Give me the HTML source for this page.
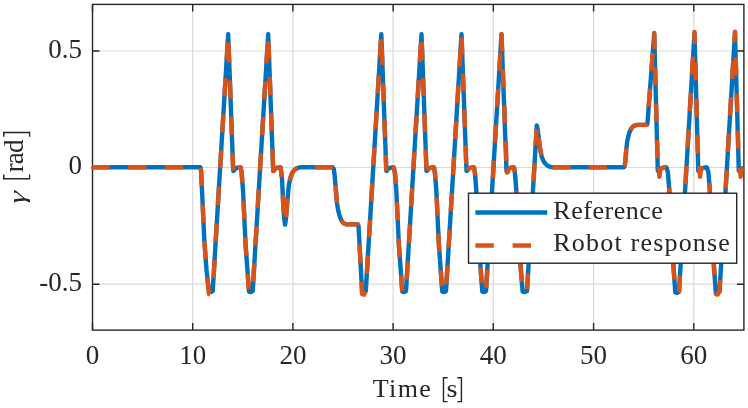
<!DOCTYPE html>
<html><head><meta charset="utf-8"><title>plot</title>
<style>
html,body{margin:0;padding:0;background:#fff}
svg{display:block}
text{font-family:"Liberation Serif",serif;fill:#262626}
</style></head><body>
<svg width="748" height="408" viewBox="0 0 748 408">
<rect width="748" height="408" fill="#fff"/>
<g stroke="#d9d9d9" stroke-width="1.2"><line x1="192.7" y1="4.4" x2="192.7" y2="330.1"/><line x1="292.9" y1="4.4" x2="292.9" y2="330.1"/><line x1="393.1" y1="4.4" x2="393.1" y2="330.1"/><line x1="493.3" y1="4.4" x2="493.3" y2="330.1"/><line x1="593.6" y1="4.4" x2="593.6" y2="330.1"/><line x1="693.8" y1="4.4" x2="693.8" y2="330.1"/><line x1="92.5" y1="51.0" x2="743.9" y2="51.0"/><line x1="92.5" y1="167.5" x2="743.9" y2="167.5"/><line x1="92.5" y1="284.2" x2="743.9" y2="284.2"/></g>
<path d="M92.5 330.1v-7M92.5 4.4v7M192.7 330.1v-7M192.7 4.4v7M292.9 330.1v-7M292.9 4.4v7M393.1 330.1v-7M393.1 4.4v7M493.3 330.1v-7M493.3 4.4v7M593.6 330.1v-7M593.6 4.4v7M693.8 330.1v-7M693.8 4.4v7M92.5 51.0h7M743.9 51.0h-7M92.5 167.5h7M743.9 167.5h-7M92.5 284.2h7M743.9 284.2h-7" stroke="#262626" stroke-width="1.4" fill="none"/>
<rect x="92.5" y="4.4" width="651.4" height="325.7" fill="none" stroke="#262626" stroke-width="1.4"/>
<clipPath id="c"><rect x="90.0" y="4.4" width="654.8" height="325.7"/></clipPath>
<g clip-path="url(#c)" fill="none" stroke-linejoin="round">
<path d="M92.5 167.3 L200.4 167.3 L201.0 169.5 L202.0 190.0 L204.3 240.0 L206.5 270.0 L209.0 291.5 L210.9 292.0 L212.7 291.0 L228.2 34.3 L233.2 171.0 L234.0 170.7 L235.2 168.7 L237.2 167.8 L239.2 167.3 L240.6 167.5 L241.6 172.5 L243.0 190.0 L245.6 245.0 L249.0 291.5 L250.9 292.0 L252.7 291.0 L268.2 34.3 L273.2 171.0 L274.0 170.7 L275.2 168.7 L277.2 167.8 L279.2 167.3 L280.6 167.5 L282.0 178.5 L283.2 204.0 L284.4 220.0 L285.1 224.6 L285.8 220.0 L286.4 213.0 L287.1 204.0 L288.0 194.0 L288.9 185.0 L290.0 179.5 L291.4 175.0 L292.8 172.0 L294.4 170.0 L296.5 168.4 L299.5 167.4 L302.0 167.3 L332.8 167.3 L333.8 169.0 L334.6 175.0 L335.5 185.0 L336.3 195.0 L337.1 204.0 L338.2 210.5 L339.5 215.5 L341.0 219.5 L342.4 222.0 L344.0 223.5 L346.5 224.3 L357.8 224.4 L358.5 226.0 L362.1 291.5 L364.0 292.0 L365.8 291.0 L381.3 34.3 L386.3 171.0 L387.1 170.7 L388.3 168.7 L390.3 167.8 L392.3 167.3 L393.7 167.5 L394.9 172.5 L396.3 190.0 L398.9 245.0 L402.3 291.5 L404.2 292.0 L406.0 291.0 L421.5 34.3 L426.5 171.0 L427.3 170.7 L428.5 168.7 L430.5 167.8 L432.5 167.3 L433.9 167.5 L434.9 172.5 L436.3 190.0 L438.9 245.0 L442.3 291.5 L444.2 292.0 L446.0 291.0 L461.5 34.3 L466.5 171.0 L467.3 170.7 L468.5 168.7 L470.5 167.8 L472.5 167.3 L473.9 167.5 L474.9 172.5 L476.3 190.0 L478.9 245.0 L482.3 291.5 L484.2 292.0 L486.0 291.0 L501.5 34.3 L506.5 171.0 L507.3 170.7 L508.5 168.7 L510.5 167.8 L512.5 167.3 L513.9 167.5 L514.9 172.5 L516.3 190.0 L518.9 245.0 L522.6 291.5 L524.8 292.0 L527.0 291.0 L536.8 125.5 L537.6 129.0 L538.5 136.0 L539.5 144.3 L540.5 151.0 L541.6 156.3 L543.2 160.5 L545.0 163.3 L547.5 165.8 L551.0 167.1 L553.0 167.3 L624.0 167.3 L624.9 165.0 L625.6 158.0 L626.3 149.0 L627.3 141.0 L628.4 136.0 L629.5 132.2 L631.0 129.0 L633.0 126.5 L635.9 125.1 L638.0 124.9 L646.9 124.9 L647.5 123.0 L654.2 33.8 L657.8 171.0 L658.7 170.8 L660.0 168.8 L663.0 167.8 L665.0 167.3 L666.5 167.5 L667.9 172.5 L669.3 190.0 L671.9 245.0 L675.3 292.3 L677.2 292.8 L679.0 291.8 L694.5 33.2 L698.3 171.0 L699.1 170.7 L700.3 168.7 L703.5 167.8 L705.5 167.3 L706.9 167.5 L708.4 172.5 L709.8 190.0 L712.4 245.0 L715.8 292.0 L717.7 292.5 L719.5 291.8 L735.0 32.8 L738.8 171.0 L739.6 170.7 L740.8 168.7 L744.0 168.2" stroke="#0072BD" stroke-width="4.4"/>
<g stroke="#D95319" stroke-width="4.4">
<path d="M92.5 167.3 L200.4 167.3 L200.6 168.0" stroke-dasharray="18.26 18.26" stroke-dashoffset="0.91"/>
<path d="M200.6 168.0 L201.0 169.5 L202.0 190.0 L204.3 240.0 L206.5 270.0 L207.3 277.5" stroke-dasharray="18.29 18.29" stroke-dashoffset="0.00"/>
<path d="M207.3 277.5 L209.0 294.0 L210.9 294.5 L212.7 291.0 L213.5 278.2" stroke-dasharray="17.66 17.66" stroke-dashoffset="0.00"/>
<path d="M213.5 278.2 L220.1 168.4" stroke-dasharray="18.33 18.33" stroke-dashoffset="0.00"/>
<path d="M220.1 168.4 L228.2 34.3 L232.5 152.8" stroke-dasharray="18.07 18.07" stroke-dashoffset="0.00"/>
<path d="M232.5 152.8 L233.2 170.4" stroke-dasharray="17.61 17.61" stroke-dashoffset="0.00"/>
<path d="M233.2 170.4 L233.2 171.0 L234.0 170.7 L235.2 168.7 L237.2 167.8 L237.5 167.7" stroke-dasharray="6.29 6.29" stroke-dashoffset="6.29"/>
<path d="M237.5 167.7 L239.2 167.3 L240.6 167.5 L241.6 172.5 L242.4 182.6" stroke-dasharray="18.40 18.40" stroke-dashoffset="0.00"/>
<path d="M242.4 182.6 L243.0 190.0 L245.6 245.0 L247.7 273.8" stroke-dasharray="18.27 18.27" stroke-dashoffset="18.27"/>
<path d="M247.7 273.8 L249.0 291.5 L250.9 292.0 L252.7 291.0 L253.2 281.9" stroke-dasharray="15.44 15.44" stroke-dashoffset="0.00"/>
<path d="M253.2 281.9 L259.9 171.0" stroke-dasharray="18.52 18.52" stroke-dashoffset="0.00"/>
<path d="M259.9 171.0 L268.2 34.3 L272.4 148.8" stroke-dasharray="17.97 17.97" stroke-dashoffset="0.00"/>
<path d="M272.4 148.8 L273.2 171.0 L274.0 170.7 L275.2 168.7 L277.2 167.8 L279.2 167.3 L280.6 167.5 L281.8 177.0" stroke-dasharray="40.65 40.65" stroke-dashoffset="0.00"/>
<path d="M281.8 177.0 L282.0 178.5 L283.2 204.0 L284.4 220.0 L285.1 224.6 L285.8 220.0 L286.4 213.0 L287.1 204.0 L288.0 194.0 L288.9 185.0 L289.8 180.5" stroke-dasharray="18.42 18.42" stroke-dashoffset="18.42"/>
<path d="M289.8 180.5 L290.0 179.5 L291.4 175.0 L292.8 172.0 L294.4 170.0 L296.5 168.4 L297.3 168.1" stroke-dasharray="15.09 15.09" stroke-dashoffset="0.00"/>
<path d="M297.3 168.1 L299.5 167.4 L302.0 167.3 L314.9 167.3" stroke-dasharray="17.72 17.72" stroke-dashoffset="17.72"/>
<path d="M314.9 167.3 L332.8 167.3 L333.8 169.0 L334.6 175.0 L335.5 185.0" stroke-dasharray="17.98 17.98" stroke-dashoffset="0.00"/>
<path d="M335.5 185.0 L335.5 185.0 L336.3 195.0 L337.1 204.0 L338.2 210.5 L339.5 215.5 L341.0 219.5 L341.3 220.0" stroke-dasharray="17.86 17.86" stroke-dashoffset="0.00"/>
<path d="M341.3 220.0 L342.4 222.0 L344.0 223.5 L346.5 224.3 L357.8 224.4 L358.3 225.5" stroke-dasharray="19.57 19.57" stroke-dashoffset="0.00"/>
<path d="M358.3 225.5 L358.5 226.0 L361.5 281.9" stroke-dasharray="18.84 18.84" stroke-dashoffset="18.84"/>
<path d="M361.5 281.9 L362.1 294.2 L364.0 294.7 L365.8 291.0 L366.8 273.8" stroke-dasharray="17.81 17.81" stroke-dashoffset="0.00"/>
<path d="M366.8 273.8 L373.4 165.3" stroke-dasharray="18.12 18.12" stroke-dashoffset="0.00"/>
<path d="M373.4 165.3 L381.3 34.3 L385.7 155.1" stroke-dasharray="18.01 18.01" stroke-dashoffset="0.00"/>
<path d="M385.7 155.1 L386.3 170.8" stroke-dasharray="15.71 15.71" stroke-dashoffset="0.00"/>
<path d="M386.3 170.8 L386.3 171.0 L387.1 170.7 L388.3 168.7 L390.3 167.8 L392.2 167.3" stroke-dasharray="7.54 7.54" stroke-dashoffset="7.54"/>
<path d="M392.2 167.3 L392.3 167.3 L393.7 167.5 L394.9 172.5 L395.8 183.8" stroke-dasharray="18.00 18.00" stroke-dashoffset="0.00"/>
<path d="M395.8 183.8 L396.3 190.0 L398.9 245.0 L401.1 275.3" stroke-dasharray="18.33 18.33" stroke-dashoffset="18.33"/>
<path d="M401.1 275.3 L402.3 291.5 L404.2 292.0 L406.0 291.0 L406.7 279.7" stroke-dasharray="15.79 15.79" stroke-dashoffset="0.00"/>
<path d="M406.7 279.7 L413.3 169.7" stroke-dasharray="18.37 18.37" stroke-dashoffset="0.00"/>
<path d="M413.3 169.7 L421.5 34.3 L425.7 149.7" stroke-dasharray="17.94 17.94" stroke-dashoffset="0.00"/>
<path d="M425.7 149.7 L426.4 168.3" stroke-dasharray="18.61 18.61" stroke-dashoffset="0.00"/>
<path d="M426.4 168.3 L426.5 171.0 L427.3 170.7" stroke-dasharray="3.56 3.56" stroke-dashoffset="3.56"/>
<path d="M427.3 170.7 L427.3 170.7 L428.5 168.7 L430.5 167.8 L432.5 167.3 L433.9 167.5 L434.9 172.5 L435.4 179.1" stroke-dasharray="19.72 19.72" stroke-dashoffset="0.00"/>
<path d="M435.4 179.1 L436.3 190.0 L438.9 245.0 L440.7 270.1" stroke-dasharray="18.23 18.23" stroke-dashoffset="18.23"/>
<path d="M440.7 270.1 L442.3 291.5 L444.2 292.0 L446.0 291.0 L446.4 284.1" stroke-dasharray="16.20 16.20" stroke-dashoffset="0.00"/>
<path d="M446.4 284.1 L453.0 174.9" stroke-dasharray="18.23 18.23" stroke-dashoffset="0.00"/>
<path d="M453.0 174.9 L461.5 34.3 L465.6 145.4" stroke-dasharray="18.00 18.00" stroke-dashoffset="0.00"/>
<path d="M465.6 145.4 L466.2 163.6" stroke-dasharray="18.21 18.21" stroke-dashoffset="0.00"/>
<path d="M466.2 163.6 L466.5 171.0 L467.3 170.7 L467.4 170.5" stroke-dasharray="8.45 8.45" stroke-dashoffset="8.45"/>
<path d="M467.4 170.5 L468.5 168.7 L470.5 167.8 L472.5 167.3 L473.9 167.5 L474.9 172.5 L475.1 175.3" stroke-dasharray="15.71 15.71" stroke-dashoffset="0.00"/>
<path d="M475.1 175.3 L476.3 190.0 L478.9 245.0 L480.5 267.2" stroke-dasharray="18.41 18.41" stroke-dashoffset="18.41"/>
<path d="M480.5 267.2 L482.3 291.5 L484.2 292.0 L486.0 291.0 L486.2 287.8" stroke-dasharray="15.80 15.80" stroke-dashoffset="0.00"/>
<path d="M486.2 287.8 L492.8 178.5" stroke-dasharray="18.25 18.25" stroke-dashoffset="0.00"/>
<path d="M492.8 178.5 L501.5 34.3 L505.7 141.3" stroke-dasharray="17.97 17.97" stroke-dashoffset="0.00"/>
<path d="M505.7 141.3 L506.4 160.9" stroke-dasharray="19.61 19.61" stroke-dashoffset="0.00"/>
<path d="M506.4 160.9 L506.8 169.5" stroke-dasharray="8.61 8.61" stroke-dashoffset="8.61"/>
<path d="M506.8 169.5 L506.9 172.6 L507.7 172.3 L508.9 168.7 L510.5 167.8 L512.5 167.3 L513.9 167.5 L514.9 172.4" stroke-dasharray="18.06 18.06" stroke-dashoffset="0.00"/>
<path d="M514.9 172.4 L514.9 172.5 L516.3 190.0 L518.9 245.0 L521.8 282.0" stroke-dasharray="18.31 18.31" stroke-dashoffset="18.31"/>
<path d="M521.8 282.0 L522.6 291.5 L524.8 292.0 L527.0 291.0 L528.1 273.2" stroke-dasharray="16.02 16.02" stroke-dashoffset="16.02"/>
<path d="M528.1 273.2 L533.5 181.5" stroke-dasharray="18.37 18.37" stroke-dashoffset="18.37"/>
<path d="M533.5 181.5 L535.6 145.0" stroke-dasharray="18.28 18.28" stroke-dashoffset="0.00"/>
<path d="M535.6 145.0 L536.8 125.5 L537.6 129.0 L538.5 136.0 L538.6 137.0" stroke-dasharray="15.59 15.59" stroke-dashoffset="0.00"/>
<path d="M538.6 137.0 L539.5 144.3 L540.5 151.0 L541.3 154.7" stroke-dasharray="17.91 17.91" stroke-dashoffset="0.00"/>
<path d="M541.3 154.7 L541.6 156.3 L543.2 160.5 L545.0 163.3 L547.5 165.8 L551.0 167.1 L552.5 167.2" stroke-dasharray="18.23 18.23" stroke-dashoffset="18.23"/>
<path d="M552.5 167.2 L553.0 167.3 L624.0 167.3 L624.3 166.5" stroke-dasharray="18.09 18.09" stroke-dashoffset="0.00"/>
<path d="M624.3 166.5 L624.9 165.0 L625.6 158.0 L626.3 149.0 L626.4 148.2" stroke-dasharray="18.48 18.48" stroke-dashoffset="0.00"/>
<path d="M626.4 148.2 L627.3 141.0 L628.4 136.0 L629.5 132.2 L630.4 130.3" stroke-dasharray="18.45 18.45" stroke-dashoffset="18.45"/>
<path d="M630.4 130.3 L631.0 129.0 L633.0 126.5 L635.9 125.1 L638.0 124.9 L646.9 124.9 L647.2 124.0" stroke-dasharray="19.79 19.79" stroke-dashoffset="0.00"/>
<path d="M647.2 124.0 L647.5 123.0 L648.7 106.7" stroke-dasharray="17.39 17.39" stroke-dashoffset="17.39"/>
<path d="M648.7 106.7 L654.2 33.0 L655.1 67.0" stroke-dasharray="17.99 17.99" stroke-dashoffset="0.00"/>
<path d="M655.1 67.0 L657.3 150.0 L657.9 158.2" stroke-dasharray="18.25 18.25" stroke-dashoffset="0.00"/>
<path d="M657.9 158.2 L658.5 166.0 L658.6 167.0" stroke-dasharray="8.83 8.83" stroke-dashoffset="8.83"/>
<path d="M658.6 167.0 L659.4 176.8 L660.1 171.0 L660.9 168.8 L662.6 167.9 L664.3 167.4 L665.8 167.3 L666.0 167.4" stroke-dasharray="23.43 23.43" stroke-dashoffset="0.00"/>
<path d="M666.0 167.4 L666.6 167.6 L667.9 172.5 L669.1 187.9" stroke-dasharray="21.16 21.16" stroke-dashoffset="21.16"/>
<path d="M669.1 187.9 L669.3 190.0 L671.9 245.0 L674.4 279.3" stroke-dasharray="18.31 18.31" stroke-dashoffset="0.00"/>
<path d="M674.4 279.3 L675.3 292.3 L677.2 292.8 L679.0 291.8 L680.0 275.6" stroke-dasharray="16.64 16.64" stroke-dashoffset="16.64"/>
<path d="M680.0 275.6 L685.4 184.1" stroke-dasharray="18.33 18.33" stroke-dashoffset="18.33"/>
<path d="M685.4 184.1 L694.5 32.0 L697.8 150.0 L698.1 153.5" stroke-dasharray="18.26 18.26" stroke-dashoffset="0.00"/>
<path d="M698.1 153.5 L699.1 166.0 L699.1 166.3" stroke-dasharray="12.84 12.84" stroke-dashoffset="12.84"/>
<path d="M699.1 166.3 L700.1 176.8 L700.8 171.0 L701.5 168.8 L703.3 167.9" stroke-dasharray="20.71 20.71" stroke-dashoffset="0.00"/>
<path d="M703.3 167.9 L703.3 167.9 L705.0 167.4 L706.3 167.3 L707.0 167.6 L708.4 172.5 L709.3 183.2" stroke-dasharray="19.67 19.67" stroke-dashoffset="19.67"/>
<path d="M709.3 183.2 L709.8 190.0 L712.4 245.0 L714.5 274.9" stroke-dasharray="18.37 18.37" stroke-dashoffset="0.00"/>
<path d="M714.5 274.9 L715.8 294.0 L717.7 294.5 L719.5 291.0 L720.2 280.0" stroke-dasharray="18.03 18.03" stroke-dashoffset="18.03"/>
<path d="M720.2 280.0 L725.6 188.5" stroke-dasharray="18.33 18.33" stroke-dashoffset="18.33"/>
<path d="M725.6 188.5 L735.0 31.6 L738.3 148.8" stroke-dasharray="18.30 18.30" stroke-dashoffset="0.00"/>
<path d="M738.3 148.8 L738.3 150.0 L739.6 166.0 L739.8 168.0" stroke-dasharray="19.26 19.26" stroke-dashoffset="19.26"/>
<path d="M739.8 168.0 L740.6 176.8 L741.3 171.0 L742.0 168.8 L743.8 167.9 L744.0 167.4" stroke-dasharray="18.35 18.35" stroke-dashoffset="0.00"/>
</g></g>
<path d="M90.3 168.1L92.6 165.2V169.6Z" fill="#D95319"/>
<rect x="468.5" y="193.2" width="268.2" height="70" fill="#fff" stroke="#262626" stroke-width="1.4"/>
<line x1="475.4" y1="212.5" x2="547.2" y2="212.5" stroke="#0072BD" stroke-width="4.4"/>
<line x1="475.4" y1="245.5" x2="547.2" y2="245.5" stroke="#D95319" stroke-width="4.4" stroke-dasharray="18.4 18.8"/>
<text x="553.3" y="218.6" font-size="26" textLength="109.5" lengthAdjust="spacing">Reference</text>
<text x="553.3" y="251.2" font-size="26" textLength="176.6" lengthAdjust="spacing">Robot response</text>
<text x="92.5" y="363.6" font-size="27" text-anchor="middle">0</text>
<text x="192.7" y="363.6" font-size="27" text-anchor="middle">10</text>
<text x="292.9" y="363.6" font-size="27" text-anchor="middle">20</text>
<text x="393.1" y="363.6" font-size="27" text-anchor="middle">30</text>
<text x="493.3" y="363.6" font-size="27" text-anchor="middle">40</text>
<text x="593.6" y="363.6" font-size="27" text-anchor="middle">50</text>
<text x="693.8" y="363.6" font-size="27" text-anchor="middle">60</text>
<text x="82.0" y="57.9" font-size="27" text-anchor="end">0.5</text>
<text x="82.0" y="174.4" font-size="27" text-anchor="end">0</text>
<text x="82.0" y="291.1" font-size="27" text-anchor="end">-0.5</text>
<text y="396.5" font-size="26"><tspan x="372.8" textLength="58" lengthAdjust="spacing">Time</tspan> <tspan x="439.6" dy="2.5" font-size="29" font-family="DejaVu Sans Light,DejaVu Sans,Liberation Serif,serif" font-weight="200">[</tspan><tspan x="446.4" dy="-2.5" textLength="11" lengthAdjust="spacingAndGlyphs">s</tspan><tspan x="454.1" dy="2.5" font-size="29" font-family="DejaVu Sans Light,DejaVu Sans,Liberation Serif,serif" font-weight="200">]</tspan></text>
<g transform="translate(22.8,205.5) rotate(-90)"><text transform="translate(-0.5,2.0) scale(1,0.8) skewX(-14)" x="0" y="0" font-size="30" font-family="DejaVu Sans Light,DejaVu Sans,Liberation Serif,serif" font-weight="200">γ</text> <text y="0" font-size="27"><tspan x="22.6" dy="3" font-size="30.5" font-family="DejaVu Sans Light,DejaVu Sans,Liberation Serif,serif" font-weight="200">[</tspan><tspan x="33.2" dy="-3" textLength="32.8" lengthAdjust="spacing">rad</tspan><tspan x="65.2" dy="3" font-size="30.5" font-family="DejaVu Sans Light,DejaVu Sans,Liberation Serif,serif" font-weight="200">]</tspan></text></g>
</svg></body></html>
